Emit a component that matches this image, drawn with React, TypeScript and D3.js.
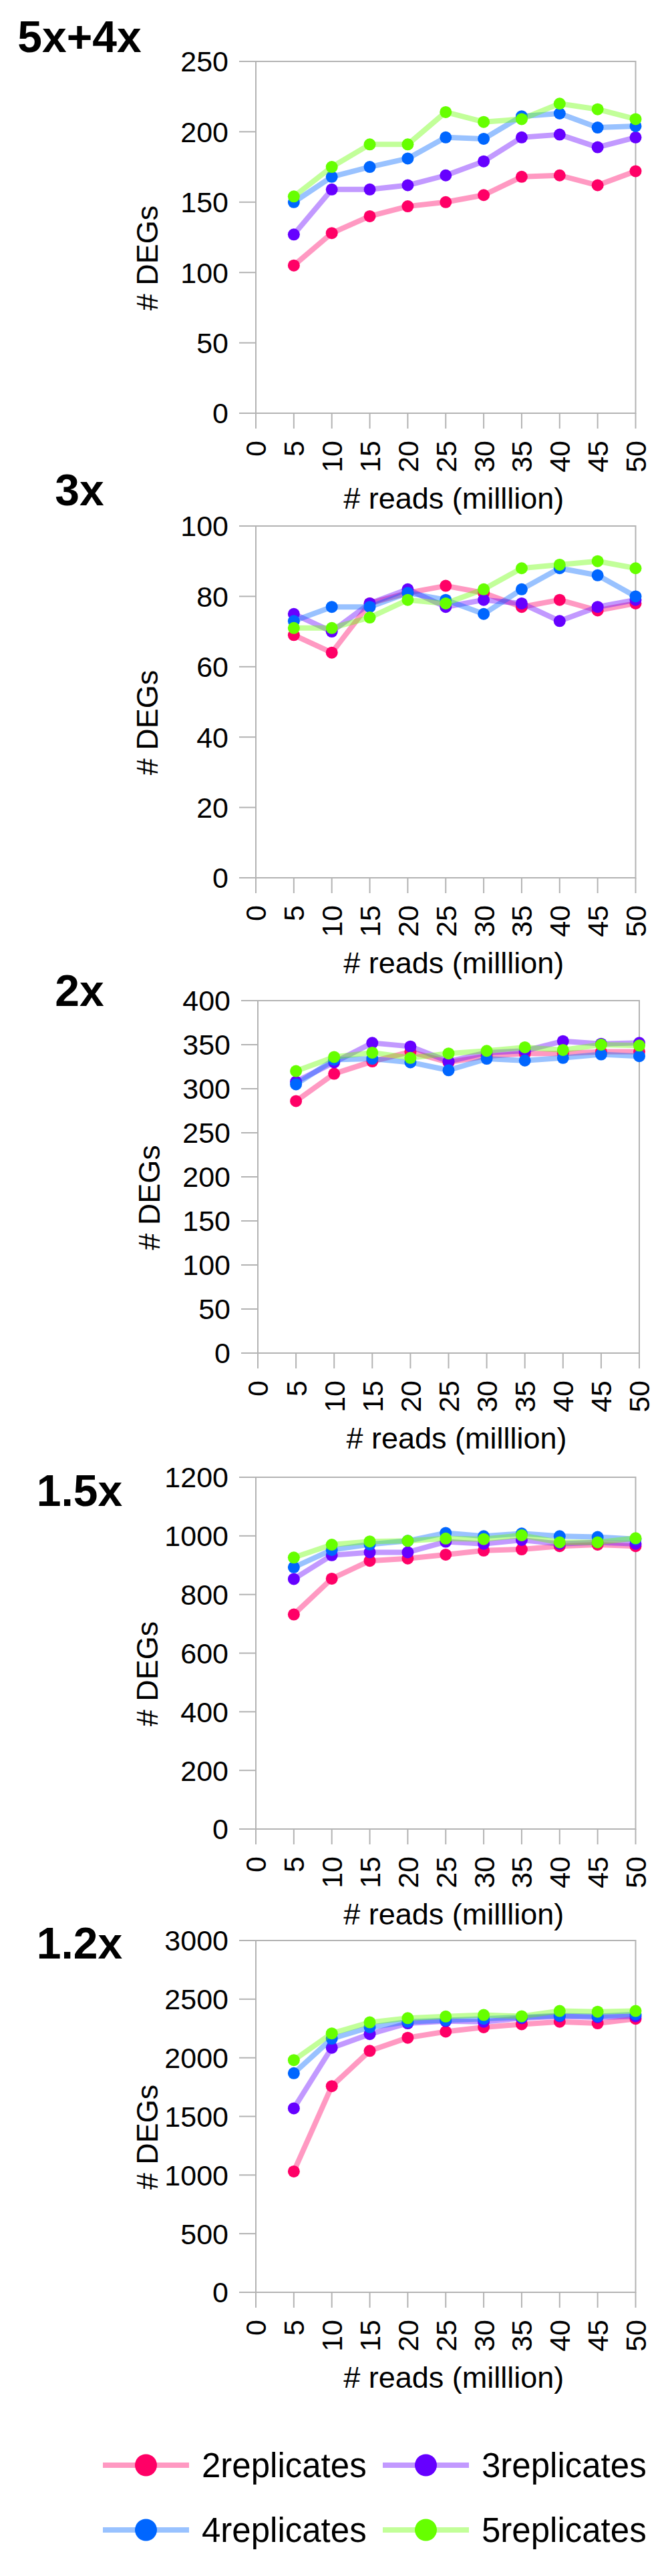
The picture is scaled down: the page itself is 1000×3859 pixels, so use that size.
import React from "react";
import * as d3 from "d3";

// Sequencing depth (million reads) sampled on the x axis
const readsMillions = [5, 10, 15, 20, 25, 30, 35, 40, 45, 50];
const xTickValues = [0, 5, 10, 15, 20, 25, 30, 35, 40, 45, 50];

const seriesNames = ["2replicates", "3replicates", "4replicates", "5replicates"];
const seriesColors = ["#ff0066", "#6600ff", "#0066ff", "#66ff00"];

const panelTitles = ["5x+4x", "3x", "2x", "1.5x", "1.2x"];
const yMaxima = [250, 100, 400, 1200, 3000];
const yTickSteps = [50, 20, 50, 200, 500];

// Number of DEGs per fold-change group, one row per replicate count
const degs5x4x = [
  [105, 128, 140, 147, 150, 155, 168, 169, 162, 172],
  [127, 159, 159, 162, 169, 179, 196, 198, 189, 196],
  [150, 168, 175, 181, 196, 195, 211, 213, 203, 204],
  [154, 175, 191, 191, 214, 207, 209, 220, 216, 209],
];
const degs3x = [
  [69, 64, 78, 81, 83, 81, 77, 79, 76, 78],
  [75, 70, 78, 82, 77, 79, 78, 73, 77, 79],
  [73, 77, 77, 81, 79, 75, 82, 88, 86, 80],
  [71, 71, 74, 79, 78, 82, 88, 89, 90, 88],
];
const degs2x = [
  [286, 317, 331, 342, 330, 337, 340, 340, 342, 342],
  [308, 330, 352, 348, 331, 341, 343, 354, 351, 352],
  [305, 333, 334, 330, 321, 334, 332, 335, 339, 337],
  [320, 336, 341, 335, 340, 343, 347, 344, 350, 349],
];
const degs1_5x = [
  [732, 854, 915, 923, 936, 950, 954, 965, 970, 965],
  [853, 934, 944, 944, 980, 973, 986, 973, 978, 973],
  [893, 952, 971, 983, 1010, 999, 1008, 999, 996, 989],
  [926, 970, 981, 983, 991, 989, 1002, 978, 978, 992],
];
const degs1_2x = [
  [1031, 1758, 2059, 2171, 2223, 2260, 2286, 2307, 2294, 2333],
  [1569, 2085, 2202, 2294, 2312, 2307, 2338, 2354, 2346, 2354],
  [1868, 2163, 2260, 2307, 2320, 2333, 2346, 2359, 2354, 2370],
  [1980, 2208, 2302, 2338, 2352, 2365, 2354, 2399, 2393, 2399],
];
const panelData = [degs5x4x, degs3x, degs2x, degs1_5x, degs1_2x];

// Frame geometry of each stacked panel
const panelFrames = [
  { top: 92, bottom: 619, left: 383, right: 951.5, titleY: 78 },
  { top: 788, bottom: 1315, left: 383, right: 951.5, titleY: 757 },
  { top: 1499, bottom: 2027, left: 386, right: 957, titleY: 1507 },
  { top: 2213, bottom: 2740, left: 383, right: 951.5, titleY: 2256 },
  { top: 2907, bottom: 3434, left: 383, right: 951.5, titleY: 2934 },
];

const FONT = "'Liberation Sans', Arial, Helvetica, sans-serif";
const AXIS = "#b3b3b3";

function Panel({ index }: { index: number }) {
  const f = panelFrames[index];
  const x = d3.scaleLinear().domain([0, 50]).range([f.left, f.right]);
  const y = d3.scaleLinear().domain([0, yMaxima[index]]).range([f.bottom, f.top]);
  const yTicks = d3.range(0, yMaxima[index] + 1e-9, yTickSteps[index]);
  const line = d3
    .line<number>()
    .x((_, i) => x(readsMillions[i]))
    .y((v) => y(v));
  const series = panelData[index];
  return (
    <g>
      <text
        x={119}
        y={f.titleY}
        fontFamily={FONT}
        fontWeight="bold"
        fontSize={66}
        textAnchor="middle"
      >
        {panelTitles[index]}
      </text>
      {/* frame */}
      <rect
        x={f.left}
        y={f.top}
        width={f.right - f.left}
        height={f.bottom - f.top}
        fill="none"
        stroke={AXIS}
        strokeWidth={2}
      />
      {yTicks.map((t) => (
        <g key={"y" + t}>
          <line x1={f.left - 25} x2={f.left} y1={y(t)} y2={y(t)} stroke={AXIS} strokeWidth={2} />
          <text
            x={f.left - 41}
            y={y(t)}
            dy="0.36em"
            textAnchor="end"
            fontFamily={FONT}
            fontSize={43}
            fill="#000"
          >
            {t}
          </text>
        </g>
      ))}
      {xTickValues.map((t) => (
        <g key={"x" + t}>
          <line x1={x(t)} x2={x(t)} y1={f.bottom} y2={f.bottom + 23} stroke={AXIS} strokeWidth={2} />
          <text
            transform={`translate(${x(t)},${f.bottom + 41}) rotate(-90)`}
            dy="0.36em"
            textAnchor="end"
            fontFamily={FONT}
            fontSize={43}
            fill="#000"
          >
            {t}
          </text>
        </g>
      ))}
      <text
        x={(f.left + f.right) / 2 + 12}
        y={f.bottom + 143}
        textAnchor="middle"
        fontFamily={FONT}
        fontSize={45}
      >
        # reads (milllion)
      </text>
      <text
        transform={`translate(${f.left - 147},${(f.top + f.bottom) / 2 + 31}) rotate(-90)`}
        textAnchor="middle"
        fontFamily={FONT}
        fontSize={45}
      >
        # DEGs
      </text>
      {series.map((vals, s) => (
        <g key={"s" + s}>
          <path
            d={line(vals) || ""}
            fill="none"
            stroke={seriesColors[s]}
            strokeOpacity={0.4}
            strokeWidth={8}
            strokeLinejoin="round"
          />
          {vals.map((v, i) => (
            <circle key={i} cx={x(readsMillions[i])} cy={y(v)} r={9} fill={seriesColors[s]} />
          ))}
        </g>
      ))}
    </g>
  );
}

function Legend() {
  const cols = [154, 573];
  const rows = [3693, 3790];
  return (
    <g>
      {seriesNames.map((name, i) => {
        const lx = cols[i % 2];
        const ly = rows[Math.floor(i / 2)];
        return (
          <g key={name}>
            <line
              x1={lx}
              x2={lx + 129}
              y1={ly}
              y2={ly}
              stroke={seriesColors[i]}
              strokeOpacity={0.4}
              strokeWidth={8}
            />
            <ellipse cx={lx + 64.5} cy={ly} rx={16.5} ry={16.5} fill={seriesColors[i]} />
            <text
              x={lx + 148}
              y={ly}
              dy="0.36em"
              fontFamily={FONT}
              fontSize={51}
              fill="#000"
            >
              {name}
            </text>
          </g>
        );
      })}
    </g>
  );
}

export default function App() {
  return (
    <svg
      width={1000}
      height={3859}
      viewBox="0 0 1000 3859"
      style={{ position: "absolute", left: 0, top: 0, display: "block", background: "#fff" }}
    >
      <rect x={0} y={0} width={1000} height={3859} fill="#fff" />
      {panelTitles.map((_, i) => (
        <Panel key={i} index={i} />
      ))}
      <Legend />
    </svg>
  );
}
